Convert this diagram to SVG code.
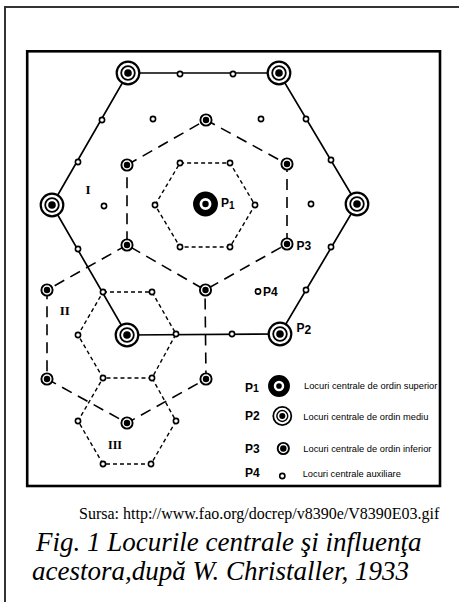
<svg xmlns="http://www.w3.org/2000/svg" xmlns:xlink="http://www.w3.org/1999/xlink" width="459" height="602" viewBox="0 0 459 602">
<style>
.solid{stroke:#000;stroke-width:1.7;fill:none}
.long{stroke:#000;stroke-width:1.6;fill:none;stroke-dasharray:11 7}
.short{stroke:#000;stroke-width:1.4;fill:none;stroke-dasharray:4 3}
.plab{font-family:"Liberation Sans",Arial,sans-serif;font-weight:bold;font-size:12px;fill:#000}
.rom{font-family:"Liberation Serif","Times New Roman",serif;font-weight:bold;fill:#000}
.leg{font-family:"Liberation Sans",Arial,sans-serif;font-size:9.3px;fill:#000}
.src{font-family:"Liberation Serif","Times New Roman",serif;font-size:16px;fill:#000}
.cap{font-family:"Liberation Serif","Times New Roman",serif;font-style:italic;font-size:27px;fill:#000}
</style>
<defs>
<g id="s1"><circle r="9.2" fill="#fff" stroke="#000" stroke-width="6.5"/><circle r="3.2" fill="#000"/></g>
<g id="s2"><circle r="11.3" fill="#fff" stroke="#000" stroke-width="2.2"/><circle r="6.8" fill="#fff" stroke="#000" stroke-width="1.8"/><circle r="3.8" fill="#000"/></g>
<g id="s3"><circle r="5.6" fill="#fff" stroke="#000" stroke-width="1.9"/><circle r="3.2" fill="#000"/></g>
<g id="s4"><circle r="2.6" fill="#fff" stroke="#000" stroke-width="1.6"/></g>
</defs>
<rect width="459" height="602" fill="#fff"/>
<path d="M5,602 V7 H459" fill="none" stroke="#333" stroke-width="2"/>
<rect x="27.2" y="51.3" width="412.8" height="434.7" fill="none" stroke="#000" stroke-width="2.6"/>

<g id="connectors">
<polygon class="solid" points="128,73 279,73 357,204 280,334 127,335 52,205"/>
<polygon class="long" points="127,165 206,120 287,164 287,244 205,290 127,245"/>
<polyline class="long" points="127,245 47,290 47,379 127,423 206,379 205,290"/>
<polygon class="short" points="155,205 180,163 230,163 255,205 230,247 180,247"/>
<polygon class="short" points="103,292 152,292 176,334 152,378 103,378 78,335"/>
<polyline class="short" points="152,378 176,421 151,464 103,464 78,421 103,378"/>
</g>

<g id="p1-center"><use xlink:href="#s1" x="205.5" y="204"/></g>

<g id="p2-a"><use xlink:href="#s2" x="128" y="73"/></g>
<g id="p2-b"><use xlink:href="#s2" x="279" y="73"/></g>
<g id="p2-c"><use xlink:href="#s2" x="357" y="204"/></g>
<g id="p2-d"><use xlink:href="#s2" x="280" y="334"/></g>
<g id="p2-e"><use xlink:href="#s2" x="127" y="335"/></g>
<g id="p2-f"><use xlink:href="#s2" x="52" y="205"/></g>

<g id="p3-1"><use xlink:href="#s3" x="127" y="165"/></g>
<g id="p3-2"><use xlink:href="#s3" x="206" y="120"/></g>
<g id="p3-3"><use xlink:href="#s3" x="287" y="164"/></g>
<g id="p3-4"><use xlink:href="#s3" x="287" y="244"/></g>
<g id="p3-5"><use xlink:href="#s3" x="205.5" y="290"/></g>
<g id="p3-6"><use xlink:href="#s3" x="127" y="245"/></g>
<g id="p3-7"><use xlink:href="#s3" x="47" y="290"/></g>
<g id="p3-8"><use xlink:href="#s3" x="47" y="379"/></g>
<g id="p3-9"><use xlink:href="#s3" x="206" y="379"/></g>
<g id="p3-10"><use xlink:href="#s3" x="127" y="423"/></g>

<g id="p4-nodes">
<use xlink:href="#s4" x="180" y="74"/>
<use xlink:href="#s4" x="233" y="74"/>
<use xlink:href="#s4" x="306" y="119"/>
<use xlink:href="#s4" x="331" y="160"/>
<use xlink:href="#s4" x="331" y="247"/>
<use xlink:href="#s4" x="306" y="290"/>
<use xlink:href="#s4" x="232" y="334"/>
<use xlink:href="#s4" x="176" y="334"/>
<use xlink:href="#s4" x="103" y="292"/>
<use xlink:href="#s4" x="78" y="249"/>
<use xlink:href="#s4" x="78" y="162"/>
<use xlink:href="#s4" x="102" y="120"/>
<use xlink:href="#s4" x="155" y="205"/>
<use xlink:href="#s4" x="180" y="163"/>
<use xlink:href="#s4" x="230" y="163"/>
<use xlink:href="#s4" x="255" y="205"/>
<use xlink:href="#s4" x="230" y="247"/>
<use xlink:href="#s4" x="180" y="247"/>
<use xlink:href="#s4" x="152" y="292"/>
<use xlink:href="#s4" x="78" y="335"/>
<use xlink:href="#s4" x="152" y="378"/>
<use xlink:href="#s4" x="103" y="378"/>
<use xlink:href="#s4" x="176" y="421"/>
<use xlink:href="#s4" x="151" y="464"/>
<use xlink:href="#s4" x="103" y="464"/>
<use xlink:href="#s4" x="78" y="421"/>
<use xlink:href="#s4" x="153" y="119"/>
<use xlink:href="#s4" x="261" y="119"/>
<use xlink:href="#s4" x="311" y="204"/>
<use xlink:href="#s4" x="258" y="291.5"/>
<use xlink:href="#s4" x="104" y="206"/>
</g>

<g id="labels">
<text class="plab" x="221" y="207" font-size="13">P<tspan font-size="10" dy="1.5">1</tspan></text>
<text class="plab" x="296.5" y="250">P3</text>
<text class="plab" x="263" y="295.5">P4</text>
<text class="plab" x="296.5" y="331.7">P<tspan dy="2.3">2</tspan></text>
<text class="rom" x="85.5" y="194" font-size="13">I</text>
<text class="rom" x="59.8" y="315" font-size="13">II</text>
<text class="rom" x="108" y="448.5" font-size="12">III</text>
</g>

<g id="legend">
<text class="plab" x="245" y="391.7">P<tspan font-size="10.5">1</tspan></text>
<use xlink:href="#s1" transform="translate(279,386) scale(0.88)"/>
<text class="leg" x="304" y="388.5">Locuri centrale de ordin superior</text>
<text class="plab" x="245" y="420">P2</text>
<use xlink:href="#s2" transform="translate(282.3,416) scale(0.8)"/>
<text class="leg" x="303.3" y="420">Locuri centrale de ordin mediu</text>
<text class="plab" x="245" y="452.7">P3</text>
<use xlink:href="#s3" transform="translate(283.3,448.5)"/>
<text class="leg" x="303.3" y="451.7">Locuri centrale de ordin inferior</text>
<text class="plab" x="245" y="477.3">P4</text>
<use xlink:href="#s4" transform="translate(282.3,476)"/>
<text class="leg" x="302.7" y="476.5">Locuri centrale auxiliare</text>
</g>

<g id="caption">
<text class="src" x="79" y="518.5">Sursa: http://www.fao.org/docrep/v8390e/V8390E03.gif</text>
<text class="cap" x="36" y="551">Fig. 1 Locurile centrale şi influenţa</text>
<text class="cap" x="32" y="580">acestora,după W. Christaller, 1933</text>
</g>
</svg>
